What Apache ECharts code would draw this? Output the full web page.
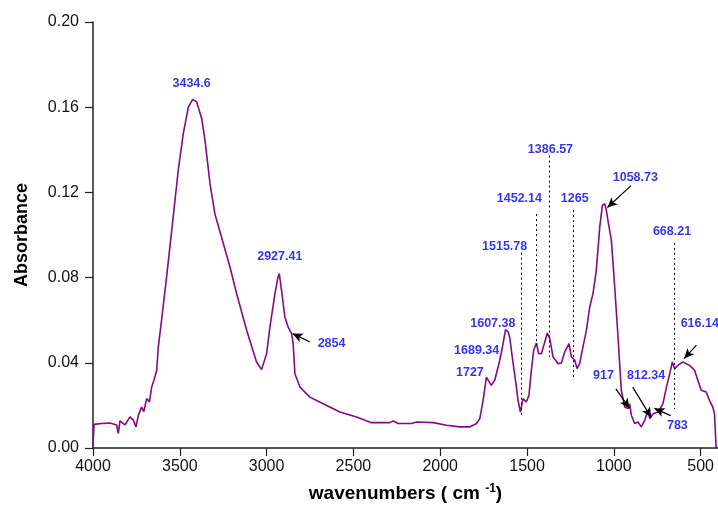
<!DOCTYPE html>
<html>
<head>
<meta charset="utf-8">
<script src="https://cdn.jsdelivr.net/npm/echarts@6/dist/echarts.min.js"></script>
<style>html,body{margin:0;padding:0;background:#fff}#c{width:718px;height:509px}</style>
</head>
<body>
<div id="c"></div>
<script>
// Spectrum data (wavenumber, absorbance)
const wavenumbers = [4000, 3994, 3950, 3902, 3864, 3854, 3845, 3816, 3787, 3768, 3752, 3739, 3720, 3707, 3691, 3675, 3662, 3649, 3633, 3624, 3605, 3576, 3538, 3509, 3480, 3451, 3426, 3403, 3374, 3355, 3326, 3298, 3260, 3211, 3173, 3115, 3058, 3029, 3000, 2981, 2952, 2935, 2927, 2914, 2895, 2876, 2856, 2847, 2837, 2808, 2751, 2674, 2578, 2482, 2396, 2290, 2271, 2242, 2165, 2136, 2040, 1964, 1887, 1830, 1791, 1772, 1753, 1734, 1725, 1706, 1686, 1657, 1638, 1624, 1609, 1600, 1580, 1561, 1552, 1538, 1523, 1504, 1489, 1475, 1462, 1446, 1433, 1417, 1398, 1383, 1369, 1350, 1321, 1302, 1283, 1258, 1244, 1225, 1212, 1197, 1178, 1158, 1139, 1120, 1101, 1081, 1066, 1053, 1043, 1034, 1014, 995, 976, 957, 937, 918, 909, 899, 880, 861, 842, 822, 803, 793, 774, 745, 717, 697, 678, 663, 650, 631, 602, 564, 535, 516, 497, 468, 449, 430, 420, 411, 402];
const absorbance = [0.001, 0.0111, 0.0115, 0.0117, 0.0108, 0.0068, 0.0127, 0.0108, 0.0146, 0.0131, 0.0099, 0.0153, 0.0192, 0.0171, 0.0232, 0.0216, 0.0286, 0.0318, 0.0365, 0.0474, 0.060, 0.0803, 0.1085, 0.1304, 0.1476, 0.160, 0.1637, 0.1625, 0.1547, 0.1445, 0.1241, 0.110, 0.0991, 0.085, 0.0725, 0.0553, 0.0404, 0.0368, 0.0443, 0.0568, 0.0725, 0.080, 0.0819, 0.074, 0.0615, 0.0568, 0.0537, 0.049, 0.0349, 0.0286, 0.0239, 0.0208, 0.0169, 0.0146, 0.0119, 0.0119, 0.0127, 0.0115, 0.0115, 0.0122, 0.0119, 0.0107, 0.0099, 0.0099, 0.0115, 0.0138, 0.0224, 0.0333, 0.0341, 0.0294, 0.0318, 0.0412, 0.049, 0.0556, 0.0545, 0.0521, 0.0396, 0.0286, 0.0224, 0.0169, 0.0232, 0.0216, 0.0247, 0.0365, 0.0459, 0.0493, 0.0443, 0.0443, 0.0498, 0.054, 0.0514, 0.0427, 0.0396, 0.0399, 0.0451, 0.049, 0.0427, 0.0412, 0.0373, 0.0396, 0.0474, 0.0553, 0.0662, 0.0725, 0.0834, 0.1038, 0.1139, 0.1147, 0.1116, 0.1069, 0.0975, 0.0756, 0.0521, 0.0271, 0.0192, 0.0185, 0.0208, 0.0154, 0.0115, 0.0122, 0.0099, 0.013, 0.0177, 0.0138, 0.0161, 0.0169, 0.0208, 0.0286, 0.0349, 0.0404, 0.0373, 0.0388, 0.0404, 0.0388, 0.0365, 0.0318, 0.0271, 0.0263, 0.0224, 0.0192, 0.0161, 0.0005, 0.0];

// Axis ticks
const xTicks = [500, 1000, 1500, 2000, 2500, 3000, 3500, 4000];
const yTicks = [0, 0.04, 0.08, 0.12, 0.16, 0.20];

// Peak annotation labels: [wavenumber, absorbance, text]
const peakLabels = [
  [3432, 0.1711, '3434.6'],
  [2924, 0.0897, '2927.41'],
  [2626, 0.0490, '2854'],
  [1365, 0.1402, '1386.57'],
  [1544, 0.1169, '1452.14'],
  [1225, 0.1169, '1265'],
  [1629, 0.0945, '1515.78'],
  [876, 0.1268, '1058.73'],
  [665, 0.1014, '668.21'],
  [1697, 0.0582, '1607.38'],
  [1790, 0.0459, '1689.34'],
  [1829, 0.0354, '1727'],
  [505, 0.0582, '616.14'],
  [1060, 0.0341, '917'],
  [814, 0.0341, '812.34'],
  [634, 0.0105, '783']
];
// Dotted leader lines: [wavenumber, yTop, yBottom]
const dottedLines = [
  [1374, 0.1373, 0.0428],
  [1446, 0.1098, 0.0483],
  [1233, 0.1117, 0.0333],
  [1535, 0.0917, 0.0152],
  [650, 0.0963, 0.0184]
];
// Arrows: [fromX, fromY, toX, toY]
const arrows = [
  [2751, 0.0498, 2850, 0.0537],
  [901, 0.1232, 1037, 0.1129],
  [524, 0.0483, 595, 0.0420],
  [988, 0.0278, 910, 0.0186],
  [891, 0.0286, 785, 0.0144],
  [673, 0.0152, 766, 0.0186]
];

const FONT = "Arial, 'Liberation Sans', sans-serif";
const spectrum = wavenumbers.map((w, i) => [w, absorbance[i]]);

const markLines = [];
dottedLines.forEach(d => markLines.push([
  {coord: [d[0], d[1]], symbol: 'none', lineStyle: {type: [2, 3], color: '#000', width: 1}},
  {coord: [d[0], d[2]], symbol: 'none'}
]));
arrows.forEach(a => markLines.push([
  {coord: [a[0], a[1]], symbol: 'none', lineStyle: {type: 'solid', color: '#000', width: 1.2}},
  {coord: [a[2], a[3]], symbol: 'arrow', symbolSize: [7, 10]}
]));

const chart = echarts.init(document.getElementById('c'), null, {renderer: 'canvas'});
chart.setOption({
  animation: false,
  backgroundColor: '#fff',
  grid: {left: 93, right: 0, top: 22, bottom: 61, containLabel: false},
  xAxis: {
    type: 'value', inverse: true, min: 400, max: 4000,
    axisLine: {show: true, lineStyle: {color: '#222', width: 1.5}},
    axisTick: {show: true, length: 8, inside: false, customValues: xTicks, lineStyle: {color: '#222', width: 1.2}},
    axisLabel: {customValues: xTicks, fontFamily: FONT, fontSize: 16, color: '#111', margin: 11, formatter: v => String(v)},
    splitLine: {show: false},
    name: 'wavenumbers ( cm {sup|-1})',
    nameLocation: 'middle', nameGap: 35,
    nameTextStyle: {fontFamily: FONT, fontSize: 19, fontWeight: 'bold', color: '#000',
      rich: {sup: {fontFamily: FONT, fontSize: 12, fontWeight: 'bold', color: '#000', verticalAlign: 'top', padding: [0, 0, 10, 0]}}}
  },
  yAxis: {
    type: 'value', min: 0, max: 0.20, interval: 0.04,
    axisLine: {show: true, lineStyle: {color: '#222', width: 1.5}},
    axisTick: {show: true, length: 8, inside: false, lineStyle: {color: '#222', width: 1.2}},
    axisLabel: {fontFamily: FONT, fontSize: 16, color: '#111', margin: 14, formatter: v => v.toFixed(2)},
    splitLine: {show: false},
    name: 'Absorbance', nameLocation: 'middle', nameGap: 62,
    nameTextStyle: {fontFamily: FONT, fontSize: 18, fontWeight: 'bold', color: '#000'}
  },
  series: [
    {
      type: 'line', data: spectrum, showSymbol: false, symbol: 'none',
      lineStyle: {color: '#850a85', width: 1.6},
      z: 3,
      markLine: {silent: true, animation: false, label: {show: false}, data: markLines}
    },
    {
      type: 'scatter', data: peakLabels, symbolSize: 1,
      itemStyle: {color: 'rgba(0,0,0,0)'},
      label: {show: true, position: 'inside', formatter: p => p.data[2],
        fontFamily: FONT, fontSize: 12.5, fontWeight: 'bold', color: '#0000ee'},
      z: 5
    }
  ]
});
</script>
</body>
</html>
